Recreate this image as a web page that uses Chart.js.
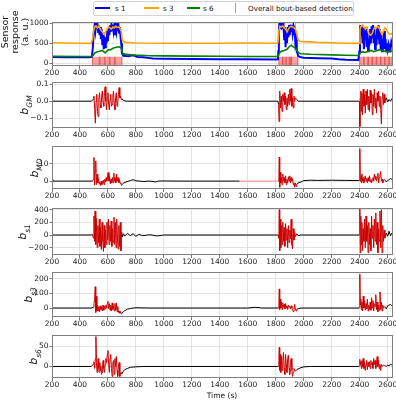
<!DOCTYPE html>
<html lang="en">
<head>
  <meta charset="UTF-8">
  <title>Sensor response and bout-based detection</title>
  <script src="https://cdn.jsdelivr.net/npm/chart.js"></script>
  <style>
    body { margin: 0; background: #fff; font-family: "DejaVu Sans", sans-serif; }
    #wrap { position: relative; width: 396px; height: 400px; overflow: hidden; }
    #wrap canvas { position: absolute; left: 0; }
    .ylab { position: absolute; transform: translate(-50%, -50%) rotate(-90deg); white-space: nowrap; color: #111; }
    .blab { font-size: 11px; font-style: italic; }
    .blab sub { font-size: 7.5px; }
    #sensorLab { font-size: 9.5px; line-height: 10px; text-align: center; }
    #legend { position: absolute; left: 93px; top: 1px; width: 259px; height: 13px; border: 1px solid #d4d4d4; border-radius: 2px; background: #fff; }
    .lg { position: absolute; font-size: 7.2px; color: #111; top: 4px; }
    .lgline { position: absolute; height: 2px; top: 7px; }
    #timeLab { position: absolute; left: 222px; top: 395px; transform: translate(-50%, -50%); font-size: 7.5px; color: #111; }
  </style>
</head>
<body>
<div id="wrap">
  <canvas id="p1"></canvas>
  <canvas id="p2"></canvas>
  <canvas id="p3"></canvas>
  <canvas id="p4"></canvas>
  <canvas id="p5"></canvas>
  <canvas id="p6"></canvas>

  <div id="legend"></div>
  <div class="lgline" style="left:95px;width:15px;background:#0000ff;"></div>
  <div class="lg" style="left:115px;">s 1</div>
  <div class="lgline" style="left:144px;width:15px;background:#ffa500;"></div>
  <div class="lg" style="left:163px;">s 3</div>
  <div class="lgline" style="left:187px;width:13px;background:#008000;"></div>
  <div class="lg" style="left:203px;">s 6</div>
  <div style="position:absolute;left:235px;top:3px;width:1px;height:10px;background:#f08080;"></div>
  <div class="lg" style="left:248px;">Overall bout-based detection</div>

  <div id="sensorLab" class="ylab" style="left:15px;top:32px;">Sensor<br>response<br>(a. u.)</div>
  <div class="ylab blab" style="left:26px;top:105px;">b<sub>GM</sub></div>
  <div class="ylab blab" style="left:36px;top:168px;">b<sub>MD</sub></div>
  <div class="ylab blab" style="left:24px;top:232px;">b<sub>s1</sub></div>
  <div class="ylab blab" style="left:30px;top:295px;">b<sub>s3</sub></div>
  <div class="ylab blab" style="left:35px;top:357px;">b<sub>s6</sub></div>
  <div id="timeLab">Time (s)</div>
</div>

<script>
// ---- data (time in s) ----
const xTicks = [200, 400, 600, 800, 1000, 1200, 1400, 1600, 1800, 2000, 2200, 2400, 2600];

const s1 = [[200,155],[300,152],[400,150],[470,150],[485,160],[492,400],[498,750],
  [505,950],[510,800],[515,980],[520,850],[525,960],[530,780],[535,940],[540,700],[545,900],[550,600],[555,850],[560,450],[565,700],[570,350],[575,550],[580,400],[585,650],[590,500],[595,800],[600,550],[605,880],[610,700],[615,940],[620,780],[625,950],[630,820],[635,960],[640,800],[645,930],[650,700],[655,900],[660,780],[665,950],[670,800],[675,930],[680,760],[685,900],[690,650],[695,500],[700,250],
  [710,190],[730,180],[750,175],[770,200],[790,190],[810,160],[850,150],[900,130],[920,120],[1000,115],[1200,110],[1400,105],[1600,100],[1800,95],[1815,100],
  [1818,300],[1822,800],[1825,950],[1830,850],[1835,960],[1840,900],[1845,970],[1850,850],[1855,950],[1860,600],[1865,900],[1870,400],[1875,850],[1880,500],[1885,900],[1890,650],[1895,950],[1900,700],[1905,960],[1910,800],[1915,950],[1920,750],[1925,900],[1930,700],[1935,800],[1940,500],[1945,600],[1950,300],[1955,250],[1960,180],
  [1980,150],[2000,140],[2100,130],[2200,120],[2250,100],[2300,90],[2390,85],
  [2398,300],[2402,850],[2405,950],[2410,700],[2415,920],[2420,500],[2425,880],[2430,350],[2435,800],[2440,600],[2445,900],[2450,400],[2455,750],[2460,300],[2465,600],[2470,450],[2475,850],[2480,500],[2485,920],[2490,650],[2495,950],[2500,500],[2505,850],[2510,350],[2515,700],[2520,450],[2525,900],[2530,600],[2535,950],[2540,500],[2545,850],[2550,350],[2555,700],[2560,300],[2565,600],[2570,450],[2575,800],[2580,350],[2585,600],[2590,300],[2595,500],[2600,350],[2605,450],[2610,300],[2615,400],[2620,350],[2625,500],[2630,400],[2635,550],[2640,450]];

const s3 = [[200,510],[300,505],[400,500],[480,495],[490,600],[497,800],[505,900],[515,930],[525,880],[535,920],[545,850],[555,800],[565,760],[575,720],[585,800],[595,860],[605,900],[615,880],[625,850],[635,900],[645,880],[655,920],[665,890],[675,900],[685,870],[695,800],[702,600],
  [710,540],[730,520],[800,505],[1000,500],[1200,498],[1400,500],[1600,505],[1800,500],[1815,510],
  [1822,800],[1830,920],[1840,900],[1850,930],[1860,880],[1870,850],[1880,780],[1890,850],[1900,900],[1910,920],[1920,900],[1930,880],[1940,850],[1950,750],[1958,600],
  [1970,550],[2000,540],[2100,520],[2200,510],[2300,500],[2395,495],
  [2402,850],[2410,920],[2420,950],[2430,900],[2440,850],[2450,900],[2460,800],[2470,720],[2480,700],[2490,750],[2500,850],[2510,900],[2520,880],[2530,920],[2540,870],[2550,780],[2560,720],[2570,800],[2580,880],[2590,850],[2600,780],[2610,730],[2620,720],[2630,740],[2640,760]];

const s6 = [[200,175],[400,172],[480,170],[495,200],[505,260],[520,280],[540,300],[560,320],[580,260],[600,330],[620,340],[640,380],[660,400],[680,410],[695,380],[705,250],
  [720,230],[760,215],[800,205],[900,190],[1000,185],[1200,180],[1400,175],[1600,172],[1800,170],[1818,175],
  [1825,250],[1840,300],[1860,320],[1880,350],[1900,430],[1910,450],[1920,420],[1940,380],[1955,300],[1965,260],
  [1980,240],[2050,225],[2200,210],[2300,200],[2395,195],
  [2405,260],[2420,290],[2440,270],[2460,300],[2480,320],[2500,290],[2520,310],[2540,340],[2560,320],[2580,300],[2600,280],[2620,300],[2640,310]];

// detected bouts (start, end) shown in the top panel
const boutSpans = [[490,538],[543,574],[579,610],[615,646],[651,700],
  [1822,1848],[1852,1872],[1876,1896],[1900,1908],[1912,1958],
  [2400,2428],[2432,2458],[2462,2488],[2492,2518],[2522,2548],[2552,2578],[2582,2608],[2612,2632]];
// periods drawn in red on the derivative traces
const redWindows = [[490,705],[1818,1958],[2398,2590]];
const mdExtraWindow = [[1540,1818]];

const bGM = [[200,0],[480,0],[495,0.01],[500,0.03],[505,-0.05],[510,-0.13],[515,0.0],[520,0.04],[525,-0.06],[530,-0.09],[535,0.02],[540,0.05],[545,-0.02],[550,-0.04],[555,0.03],[560,0.06],[565,-0.01],[570,-0.03],[575,0.05],[580,0.085],[585,0.0],[590,-0.05],[595,0.02],[600,0.05],[605,-0.02],[610,-0.05],[615,0.01],[620,0.04],[625,-0.03],[630,-0.02],[635,0.03],[640,0.06],[645,-0.02],[650,-0.05],[655,0.02],[660,0.05],[665,-0.03],[670,-0.01],[675,0.04],[680,0.08],[685,0.02],[690,0.03],[695,0.01],[700,0.015],[710,0.005],[730,0.0],[1815,0],
  [1820,-0.02],[1823,-0.12],[1826,0.02],[1830,0.06],[1835,-0.04],[1840,0.03],[1845,-0.06],[1850,0.04],[1855,0.0],[1860,0.05],[1865,-0.02],[1870,0.03],[1875,-0.05],[1880,0.02],[1885,-0.03],[1890,0.04],[1895,-0.02],[1900,0.07],[1905,0.0],[1910,0.075],[1915,-0.03],[1920,0.02],[1925,-0.04],[1930,0.03],[1935,0.0],[1940,0.02],[1950,0.01],[1960,0.0],[2395,0],
  [2398,0],[2401,-0.15],[2404,0.02],[2408,0.06],[2412,-0.06],[2416,0.05],[2420,-0.08],[2425,0.07],[2430,-0.03],[2435,0.04],[2440,-0.07],[2445,0.06],[2450,-0.02],[2455,0.07],[2460,-0.05],[2465,0.03],[2470,-0.06],[2475,0.065],[2480,-0.01],[2485,0.05],[2490,-0.08],[2495,0.04],[2500,-0.03],[2505,0.07],[2510,-0.04],[2515,0.02],[2520,-0.07],[2525,0.05],[2530,0.0],[2535,0.06],[2540,-0.03],[2545,0.03],[2550,-0.05],[2555,-0.135],[2560,0.02],[2565,0.05],[2570,-0.02],[2575,0.04],[2580,-0.01],[2590,0.02],[2600,-0.005],[2610,0.01],[2620,0.0],[2630,0.015],[2640,0.005]];

const bMD = [[200,1],[205,0],[480,0],[490,0],[496,1],[500,13.5],[504,-2.3],[508,5],[513,11.5],[517,-2],[522,4],[527,-1],[532,1.5],[537,-1.5],[542,-0.5],[547,-2.5],[552,0],[557,-2],[562,-1],[567,0.5],[572,-2],[577,1],[582,-0.5],[587,2],[592,0],[597,3],[602,4.9],[607,0],[612,2.5],[617,-1.5],[622,1],[627,-1],[632,2],[637,-1],[642,4.5],[647,0],[652,2],[657,-1],[662,4],[667,0],[672,2],[677,-1],[682,1],[687,-1.3],[692,-1],[697,-2.5],[702,-2],
  [710,-1.2],[730,-0.5],[760,0.3],[780,0.8],[800,0.2],[850,-0.2],[900,0],[940,-0.5],[960,0],[1000,0.1],[1100,0],[1540,0],[1815,0],
  [1818,0],[1822,2],[1825,13.7],[1828,-3.5],[1832,5],[1836,-1],[1840,2],[1845,-2],[1850,4],[1855,0],[1860,2],[1865,-1],[1870,3],[1875,-2],[1880,1],[1885,-1],[1890,2.5],[1895,0],[1900,3],[1905,-1],[1910,2],[1915,0],[1920,1],[1925,-2],[1930,-1],[1935,-3.5],[1940,-1],[1945,-3],[1950,-2],[1960,-1],
  [1980,-0.5],[2000,0.3],[2050,0.5],[2100,0.4],[2200,0.5],[2300,0.4],[2395,0.3],
  [2398,0.3],[2401,18.5],[2404,0],[2408,3],[2412,-1],[2416,4],[2420,0],[2425,2],[2430,-1],[2435,1],[2440,3],[2445,0],[2450,1.5],[2455,-1],[2460,2],[2465,0],[2470,3],[2475,-0.5],[2480,1],[2485,-1],[2490,0.5],[2495,2],[2500,0],[2505,4],[2510,1],[2515,3],[2520,0],[2525,2],[2530,4.5],[2535,-1],[2540,2],[2545,4],[2550,5.5],[2555,0],[2560,1],[2565,-1],[2570,0.5],[2580,0.8],[2590,-0.5],[2600,0.3],[2610,0.8],[2620,1.5],[2630,1],[2640,2]];

const bS1 = [[200,0],[480,0],[490,10],[496,-50],[500,300],[504,-100],[508,380],[513,-150],[518,260],[523,-200],[528,150],[533,-120],[538,250],[543,-180],[548,120],[553,-230],[558,200],[563,-100],[568,-260],[573,150],[578,-200],[583,80],[588,-150],[593,200],[598,-80],[603,250],[608,-150],[613,150],[618,-100],[623,220],[628,-180],[633,100],[638,-120],[643,280],[648,-150],[653,200],[658,-200],[663,250],[668,-50],[673,-220],[678,150],[683,-180],[688,200],[693,-250],[698,50],[703,-30],
  [710,20],[720,-15],[740,25],[760,-10],[780,20],[800,-20],[820,10],[850,-10],[900,5],[950,-15],[1000,0],[1815,0],
  [1818,0],[1822,-50],[1825,400],[1828,-250],[1832,250],[1836,-200],[1840,150],[1845,-150],[1850,200],[1855,-100],[1860,120],[1865,-180],[1870,180],[1875,-80],[1880,100],[1885,-200],[1890,150],[1895,-120],[1900,80],[1905,-60],[1910,250],[1915,-150],[1920,-220],[1925,100],[1930,-80],[1935,50],[1940,-30],[1950,20],[1960,-10],[1980,0],[2395,0],
  [2398,0],[2401,420],[2404,-280],[2408,300],[2412,-150],[2416,200],[2420,-250],[2425,100],[2430,-100],[2435,250],[2440,-200],[2445,300],[2450,-100],[2455,150],[2460,-280],[2465,200],[2470,-150],[2475,100],[2480,-250],[2485,300],[2490,-50],[2495,150],[2500,-200],[2505,250],[2510,-100],[2515,350],[2520,-150],[2525,200],[2530,-280],[2535,100],[2540,-100],[2545,380],[2550,-200],[2555,400],[2560,-280],[2565,150],[2570,-100],[2575,80],[2580,-50],[2590,30],[2600,-20],[2610,60],[2620,-10],[2630,30],[2640,0]];

const bS3 = [[200,0],[480,0],[495,5],[500,30],[505,60],[509,145],[513,-30],[517,80],[521,-20],[525,20],[530,-20],[535,10],[540,-25],[545,15],[550,-10],[555,5],[560,-20],[565,20],[570,-15],[575,10],[580,-5],[585,20],[590,0],[595,30],[600,45],[605,-5],[610,30],[615,-15],[620,20],[625,-20],[630,35],[635,-10],[640,15],[645,-20],[650,30],[655,-15],[660,35],[665,-25],[670,10],[675,-30],[680,-20],[685,-35],[690,-25],[695,-40],[700,-35],
  [710,-25],[720,-18],[740,-8],[760,-3],[780,0],[800,2],[900,0],[1600,0],[1650,5],[1680,3],[1700,0],[1815,0],
  [1818,0],[1822,20],[1825,130],[1828,-10],[1832,60],[1836,0],[1840,40],[1845,-10],[1850,35],[1855,5],[1860,25],[1865,-5],[1870,30],[1875,0],[1880,15],[1885,-10],[1890,20],[1895,5],[1900,10],[1905,-5],[1910,15],[1915,0],[1920,-15],[1925,-25],[1930,-10],[1935,25],[1940,-5],[1945,-20],[1950,-10],[1960,-5],[1980,0],[2395,0],
  [2398,0],[2401,230],[2404,20],[2408,60],[2412,-10],[2416,40],[2420,-20],[2425,80],[2430,0],[2435,50],[2440,-15],[2445,30],[2450,-5],[2455,60],[2460,-20],[2465,20],[2470,-10],[2475,40],[2480,-15],[2485,70],[2490,0],[2495,50],[2500,-20],[2505,30],[2510,10],[2515,90],[2520,-10],[2525,40],[2530,-25],[2535,20],[2540,-15],[2545,110],[2550,-10],[2555,40],[2560,-20],[2565,20],[2570,0],[2580,10],[2590,-5],[2600,15],[2610,20],[2620,25],[2630,15],[2640,20]];

const bS6 = [[200,0],[480,0],[495,5],[500,12],[505,-5],[510,20],[514,75],[518,10],[522,-15],[526,5],[530,20],[534,-5],[538,-15],[542,10],[546,-10],[550,0],[554,-20],[558,-15],[562,5],[566,15],[570,-5],[575,-15],[580,5],[585,20],[590,10],[595,30],[600,40],[605,5],[610,-15],[615,20],[620,30],[625,-5],[630,-25],[635,10],[640,15],[645,-20],[650,20],[655,0],[660,25],[665,-10],[670,-25],[675,0],[680,10],[685,-25],[690,-20],[695,-15],[700,-18],
  [710,-12],[720,-8],[740,-5],[760,-2],[800,-1],[850,0],[1815,0],
  [1818,0],[1822,15],[1825,48],[1828,-10],[1832,30],[1836,-15],[1840,25],[1845,-10],[1850,15],[1855,35],[1860,-5],[1865,-20],[1870,30],[1875,5],[1880,-15],[1885,20],[1890,28],[1895,-5],[1900,-20],[1905,10],[1910,20],[1915,-10],[1920,-25],[1925,-15],[1930,-5],[1940,-12],[1950,-8],[1960,-6],[1980,-3],[2000,-1],[2050,0],[2395,0],
  [2398,0],[2401,18],[2404,5],[2408,12],[2412,-5],[2416,15],[2420,0],[2425,20],[2430,-5],[2435,10],[2440,-10],[2445,5],[2450,15],[2455,-8],[2460,10],[2465,0],[2470,12],[2475,-5],[2480,15],[2485,5],[2490,10],[2495,-5],[2500,20],[2505,5],[2510,15],[2515,-5],[2520,10],[2525,25],[2530,0],[2535,15],[2540,-5],[2545,5],[2550,-10],[2555,5],[2560,0],[2570,3],[2580,2],[2590,0],[2600,3],[2610,2],[2620,5],[2630,4],[2640,5]];

const yTicksSensor = [0, 500, 1000];
const yTicksGM = [-0.1, 0, 0.1];
const yTicksMD = [0, 10];
const yTicksS1 = [-200, 0, 200, 400];
const yTicksS3 = [0, 100, 200];
const yTicksS6 = [0, 50];

// ---- layout ----
const X_MIN = 200, X_MAX = 2638;
const PAD_TOP = 6, X_AXIS_H = 16, Y_AXIS_W = 52;
const RED = '#cc0000';

const toXY = arr => arr.map(([x, y]) => ({ x, y }));
const minus = s => String(s).replace('-', '\u2212');
const inside = (a, b, wins) => wins.some(([s, e]) => a >= s && b <= e);

const frame = {
  id: 'frame',
  afterDatasetsDraw(chart) {
    const { ctx, chartArea: a } = chart;
    ctx.save();
    ctx.strokeStyle = '#808080';
    ctx.lineWidth = 1;
    ctx.strokeRect(Math.round(a.left) + 0.5, Math.round(a.top) + 0.5,
      Math.round(a.right - a.left) - 1, Math.round(a.bottom - a.top) - 1);
    ctx.restore();
  }
};

function tracePanel(data, wins, extra) {
  return [{
    data: toXY(data),
    borderWidth: 1,
    borderColor: '#000',
    segment: {
      borderColor: c => {
        if (inside(c.p0.parsed.x, c.p1.parsed.x, wins)) return RED;
        if (extra && inside(c.p0.parsed.x, c.p1.parsed.x, extra)) return '#ff8a8a';
        return '#000';
      }
    }
  }];
}

function makePanel(id, plotTop, plotBottom, yMin, yMax, yTicks, datasets, fmt) {
  const cv = document.getElementById(id);
  cv.width = 396;
  cv.height = plotBottom - plotTop + PAD_TOP + X_AXIS_H;
  cv.style.top = (plotTop - PAD_TOP) + 'px';
  const tickFont = { family: 'DejaVu Sans', size: 7.5 };
  return new Chart(cv, {
    type: 'line',
    data: { datasets },
    options: {
      responsive: false,
      animation: false,
      events: [],
      layout: { padding: { top: PAD_TOP, right: 3, left: 0, bottom: 0 } },
      plugins: { legend: { display: false }, tooltip: { enabled: false } },
      elements: { point: { radius: 0 }, line: { tension: 0 } },
      scales: {
        x: {
          type: 'linear', min: X_MIN, max: X_MAX,
          afterBuildTicks: s => { s.ticks = xTicks.map(v => ({ value: v })); },
          afterFit: s => { s.height = X_AXIS_H; s.paddingLeft = 0; s.paddingRight = 0; },
          ticks: { font: tickFont, color: '#222', padding: 0, maxRotation: 0, autoSkip: false, callback: v => String(v) },
          grid: { color: '#dcdcdc', lineWidth: 0.8, tickLength: 3, tickColor: '#555' },
          border: { display: false }
        },
        y: {
          min: yMin, max: yMax,
          afterBuildTicks: s => { s.ticks = yTicks.map(v => ({ value: v })); },
          afterFit: s => { s.width = Y_AXIS_W; s.paddingTop = 0; s.paddingBottom = 0; },
          ticks: { font: tickFont, color: '#222', padding: 1, callback: fmt || (v => minus(v)) },
          grid: { color: '#dcdcdc', lineWidth: 0.8, tickLength: 2.5, tickColor: '#555' },
          border: { display: false }
        }
      }
    },
    plugins: [frame]
  });
}

// top panel: sensor responses + detection marks
const boutSets = boutSpans.map(([a, b]) => ({
  data: [{ x: a, y: 165 }, { x: b, y: 165 }],
  borderWidth: 0,
  backgroundColor: 'rgba(240,70,70,0.5)',
  fill: { value: -200 },
  order: 10
}));
const boutEdges = {
  data: boutSpans.flatMap(([a, b]) => [{ x: a, y: -200 }, { x: a, y: 165 }, { x: a, y: null }, { x: b, y: -200 }, { x: b, y: 165 }, { x: b, y: null }]),
  borderWidth: 1, borderColor: 'rgba(230,40,40,0.7)', spanGaps: false, order: 9
};
makePanel('p1', 22, 66, -65, 1025, yTicksSensor, [
  ...boutSets, boutEdges,
  { data: toXY(s1), borderColor: '#0000ff', borderWidth: 2, order: 3 },
  { data: toXY(s3), borderColor: '#ffa500', borderWidth: 1.6, order: 2 },
  { data: toXY(s6), borderColor: '#008000', borderWidth: 1.6, order: 1 }
]);

makePanel('p2', 82, 128, -0.158, 0.113, yTicksGM, tracePanel(bGM, redWindows), v => minus(v.toFixed(1)));
makePanel('p3', 146, 189, -4.5, 20, yTicksMD, tracePanel(bMD, redWindows, mdExtraWindow));
makePanel('p4', 208, 255, -316, 427, yTicksS1, tracePanel(bS1, redWindows));
makePanel('p5', 272, 317, -61, 245, yTicksS3, tracePanel(bS3, redWindows));
makePanel('p6', 335, 378, -29, 79, yTicksS6, tracePanel(bS6, redWindows));
</script>
</body>
</html>
